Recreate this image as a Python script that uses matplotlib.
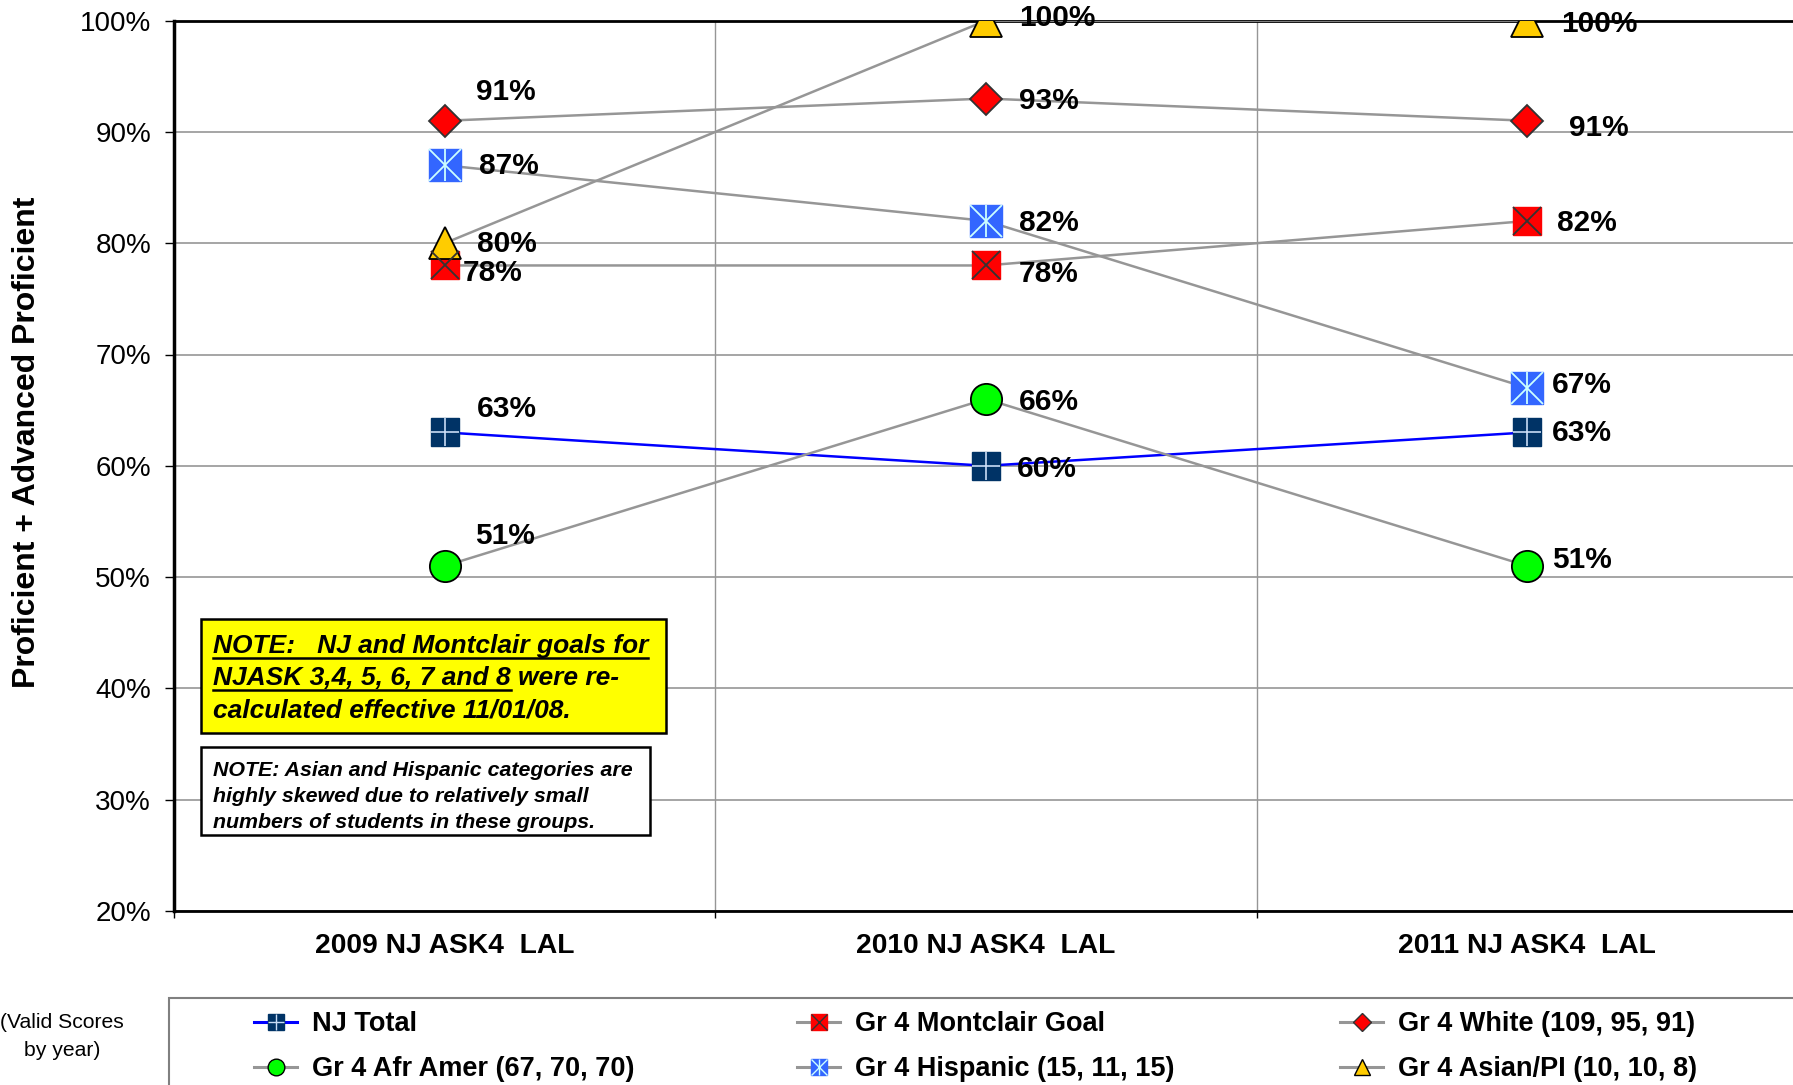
import matplotlib
matplotlib.use("Agg")
import matplotlib.pyplot as plt
from matplotlib import font_manager
from matplotlib.lines import Line2D
from matplotlib.patches import Rectangle
import numpy as np

# data
years = ["2009 NJ ASK4  LAL", "2010 NJ ASK4  LAL", "2011 NJ ASK4  LAL"]
nj_total = [63, 60, 63]
montclair_goal = [78, 78, 82]
white = [91, 93, 91]
afr_amer = [51, 66, 51]
hispanic = [87, 82, 67]
asian_pi = [80, 100, 100]
y_ticks = [20, 30, 40, 50, 60, 70, 80, 90, 100]

names = ["NJ Total", "Gr 4 Montclair Goal", "Gr 4 White (109, 95, 91)",
         "Gr 4 Afr Amer (67, 70, 70)", "Gr 4 Hispanic (15, 11, 15)",
         "Gr 4 Asian/PI (10, 10, 8)"]

note1_lines = ["NOTE:   NJ and Montclair goals for",
               "NJASK 3,4, 5, 6, 7 and 8", "were re-",
               "calculated effective 11/01/08."]
note2_lines = ["NOTE: Asian and Hispanic categories are",
               "highly skewed due to relatively small",
               "numbers of students in these groups."]

# label offsets (pixels from marker: dx to left edge, dy to text centre)
label_offsets = {
    "nj": [(32, 25), (31, -1), (25, 1)],
    "goal": [(18, -6), (33, -7), (30, 0)],
    "white": [(31, 31), (33, 0), (42, -5)],
    "afr": [(30, 32), (33, -1), (25, 8)],
    "hisp": [(34, 1), (33, 0), (25, 5)],
    "asian": [(32, 1), (33, 5), (34, -1)],
}

have = {f.name for f in font_manager.fontManager.ttflist}
SANS = "Liberation Sans" if "Liberation Sans" in have else "DejaVu Sans"
NARROW = "Liberation Sans Narrow" if "Liberation Sans Narrow" in have else SANS
plt.rcParams["font.family"] = [SANS, "DejaVu Sans"]

W, H = 1793, 1085
fig = plt.figure(figsize=(W / 100, H / 100), dpi=100)
ax = fig.add_axes([174 / W, 1 - 911 / H, (1798 - 174) / W, (911 - 20.6) / H])
x = np.arange(len(years))
ax.set_xlim(-0.5, 2.5)
ax.set_ylim(20, 100)

GRAY = "#969696"
LW = 1.8

# series lines + markers
ax.plot(x, nj_total, color="#0000FF", lw=LW, marker="s", ms=19.5,
        mfc="#003366", mec="#003366", zorder=4)
ax.plot(x, nj_total, ls="none", marker="+", ms=19.5, mec="#C8DCF5", mew=1.2,
        zorder=5)
ax.plot(x, montclair_goal, color=GRAY, lw=LW, marker="s", ms=19.5,
        mfc="#FF0000", mec="#FF0000", zorder=4)
ax.plot(x, montclair_goal, ls="none", marker="x", ms=19.5, mec="#333333",
        mew=1.3, zorder=5)
ax.plot(x, white, color=GRAY, lw=LW, marker="D", ms=16, mfc="#FF0000",
        mec="#333333", mew=1.3, zorder=4)
ax.plot(x, afr_amer, color=GRAY, lw=LW, marker="o", ms=22.5, mfc="#00FF00",
        mec="#000000", mew=1.3, zorder=4)
ax.plot(x, hispanic, color=GRAY, lw=LW, marker="s", ms=23, mfc="#3366FF",
        mec="#3366FF", zorder=4)
ax.plot(x, hispanic, ls="none", marker="x", ms=23, mec="#CCFFFF", mew=1.3,
        zorder=5)
ax.plot(x, hispanic, ls="none", marker="|", ms=23, mec="#CCFFFF", mew=1.3,
        zorder=5)
ax.plot(x, asian_pi, color=GRAY, lw=LW, marker="^", ms=23.5, mfc="#FFCC00",
        mec="#000000", mew=1.3, zorder=4)

# data labels
for key, vals in [("nj", nj_total), ("goal", montclair_goal), ("white", white),
                  ("afr", afr_amer), ("hisp", hispanic), ("asian", asian_pi)]:
    for i, v in enumerate(vals):
        dx, dy = label_offsets[key][i]
        ax.annotate(f"{v}%", (x[i], v), xytext=(dx, dy - 10),
                    textcoords="offset pixels", ha="left", va="baseline",
                    fontsize=21.5, fontweight="bold", zorder=6)

# axes styling
ax.set_yticks(y_ticks)
ax.set_yticklabels([f"{t}%" for t in y_ticks])
ax.tick_params(axis="y", length=6.5, width=1, pad=10, labelsize=20)
ax.set_xticks([-0.5, 0.5, 1.5, 2.5])
ax.set_xticklabels([])
ax.set_xticks(x, minor=True)
ax.set_xticklabels(years, minor=True, fontsize=20.3, fontweight="bold")
ax.tick_params(axis="x", which="major", length=5, width=1)
ax.tick_params(axis="x", which="minor", length=0, pad=16)
ax.grid(axis="y", color=GRAY, lw=1.2, zorder=0)
for b in [0.5, 1.5]:
    ax.axvline(b, color=GRAY, lw=1.0, zorder=0)
ax.spines["left"].set_linewidth(2.5)
ax.spines["bottom"].set_linewidth(2)
ax.spines["top"].set_linewidth(2)
ax.spines["right"].set_visible(False)
ax.set_axisbelow(True)

fig.text(27 / W, 1 - 442 / H, "Proficient + Advanced Proficient",
         rotation=90, ha="center", va="center", fontsize=23,
         fontweight="bold")

# note boxes
fig.add_artist(Rectangle((201 / W, 1 - 733 / H), 465 / W, 114 / H,
                         transform=fig.transFigure, fc="#FFFF00", ec="black",
                         lw=1.8, zorder=5))
fig.add_artist(Rectangle((201 / W, 1 - 835 / H), 449 / W, 88 / H,
                         transform=fig.transFigure, fc="white", ec="black",
                         lw=1.8, zorder=5))

renderer = fig.canvas.get_renderer()
nfont = dict(fontsize=19, fontweight="bold", fontstyle="italic", zorder=6)
tx = 213 / W
base1 = [653, 685, 717]
t1 = fig.text(tx, 1 - base1[0] / H, note1_lines[0], va="baseline", **nfont)
t2 = fig.text(tx, 1 - base1[1] / H, note1_lines[1], va="baseline", **nfont)
bb2 = t2.get_window_extent(renderer)
fig.text((bb2.x1 + 7) / W, 1 - base1[1] / H, note1_lines[2], va="baseline",
         **nfont)
fig.text(tx, 1 - base1[2] / H, note1_lines[3], va="baseline", **nfont)
for t, yb in [(t1, base1[0]), (t2, base1[1])]:
    bb = t.get_window_extent(renderer)
    fig.add_artist(Line2D([bb.x0 / W, bb.x1 / W],
                          [1 - (yb + 5) / H, 1 - (yb + 5) / H],
                          transform=fig.transFigure, color="black", lw=1.8,
                          zorder=6))

for line, yb in zip(note2_lines, [776, 802, 828]):
    fig.text(tx, 1 - yb / H, line, va="baseline", fontsize=15.4,
             fontweight="bold", fontstyle="italic", zorder=6)

# legend
fig.add_artist(Rectangle((169 / W, -0.05), 1.0, 0.05 + 1 - 998 / H,
                         transform=fig.transFigure, fc="none", ec="#808080",
                         lw=1.5, zorder=5))
leg_size = 24 if NARROW != SANS else 19.5


def handle(color, marker, ms, mfc, mec, mew=1.0, over=None):
    base = Line2D([], [], color=color, lw=2.2, marker=marker, ms=ms, mfc=mfc,
                  mec=mec, mew=mew)
    if over is None:
        return base
    extra = [Line2D([], [], ls="none", marker=m, ms=ms, mec=c, mew=1)
             for m, c in over]
    return tuple([base] + extra)


h_nj = handle("#0000FF", "s", 12, "#003366", "#003366",
              over=[("+", "#C8DCF5")])
h_goal = handle(GRAY, "s", 12, "#FF0000", "#FF0000", over=[("x", "#333333")])
h_white = handle(GRAY, "D", 9, "#FF0000", "#333333")
h_afr = handle(GRAY, "o", 12, "#00FF00", "#000000")
h_hisp = handle(GRAY, "s", 12, "#3366FF", "#3366FF",
                over=[("x", "#CCFFFF"), ("|", "#CCFFFF")])
h_asian = handle(GRAY, "^", 12, "#FFCC00", "#000000")

cols = [((h_nj, h_afr), (names[0], names[3]), 254),
        ((h_goal, h_hisp), (names[1], names[4]), 797),
        ((h_white, h_asian), (names[2], names[5]), 1340)]
for hs, labs, xpx in cols:
    fig.legend(list(hs), list(labs), loc="upper left",
               bbox_to_anchor=(xpx / W, 1 - 1011 / H), frameon=False,
               borderpad=0, borderaxespad=0, handlelength=1.6,
               handletextpad=0.55, labelspacing=0.72,
               prop=dict(family=NARROW, weight="bold", size=leg_size))

vs_size = 17 if NARROW != SANS else 15.2
fig.text(62 / W, 1 - 1023 / H, "(Valid Scores", ha="center", va="center",
         fontsize=vs_size, family=NARROW)
fig.text(62 / W, 1 - 1050 / H, "by year)", ha="center", va="center",
         fontsize=vs_size, family=NARROW)

fig.savefig("out.png", dpi=100)
